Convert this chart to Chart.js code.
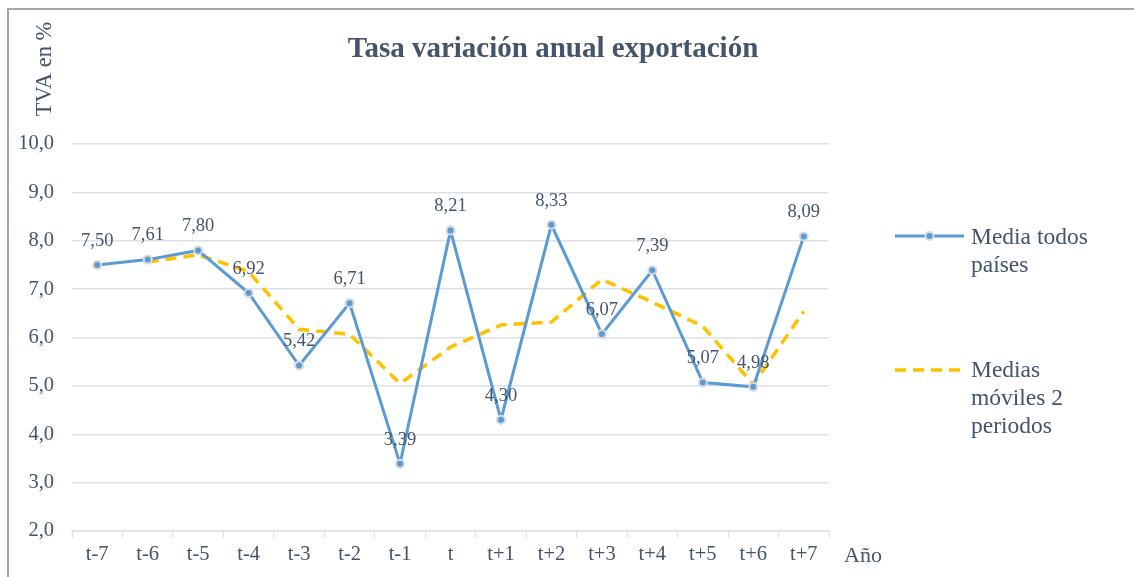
<!DOCTYPE html>
<html>
<head>
<meta charset="utf-8">
<script src="https://cdn.jsdelivr.net/npm/chart.js@4.4.1/dist/chart.umd.min.js"></script>
<style>
  html, body { margin: 0; padding: 0; background: #ffffff; overflow: hidden; }
  #frame { position: absolute; left: 7px; top: 8px; width: 2000px; height: 2000px; border: 2px solid #a6a6a6; box-sizing: border-box; }
  #c { position: absolute; left: 0; top: 0; }
</style>
</head>
<body>
<div id="frame"></div>
<canvas id="c" width="1134" height="577"></canvas>
<script>
const categories = ['t-7','t-6','t-5','t-4','t-3','t-2','t-1','t','t+1','t+2','t+3','t+4','t+5','t+6','t+7'];
const mediaTodos = [7.50, 7.61, 7.80, 6.92, 5.42, 6.71, 3.39, 8.21, 4.30, 8.33, 6.07, 7.39, 5.07, 4.98, 8.09];
const mediasMoviles = [null, 7.56, 7.71, 7.36, 6.17, 6.07, 5.05, 5.80, 6.26, 6.32, 7.20, 6.73, 6.23, 5.03, 6.54];
const seriesNames = [['Media todos', 'países'], ['Medias', 'móviles 2', 'periodos']];
const chartTitle = 'Tasa variación anual exportación';
const yTitle = 'TVA en %';
const xTitle = 'Año';

const SERIF = "'Liberation Serif', 'Times New Roman', serif";
const TXT = '#44546A';
const BLUE = '#5B9BD5';
const YELLOW = '#FFC000';
const GRID = '#dde1e7';

const decorPlugin = {
  id: 'decor',
  afterDatasetsDraw(chart) {
    const ctx = chart.ctx;
    const meta = chart.getDatasetMeta(0);
    ctx.save();
    ctx.font = '18.5px ' + SERIF;
    ctx.fillStyle = TXT;
    ctx.textAlign = 'center';
    ctx.textBaseline = 'middle';
    meta.data.forEach((pt, i) => {
      const v = chart.data.datasets[0].data[i];
      if (v == null) return;
      ctx.fillText(v.toFixed(2).replace('.', ','), pt.x, pt.y - 24);
    });
    ctx.restore();
  },
  afterDraw(chart) {
    const ctx = chart.ctx;
    ctx.save();
    // Title
    ctx.fillStyle = TXT;
    ctx.font = 'bold 29px ' + SERIF;
    ctx.textAlign = 'center';
    ctx.textBaseline = 'middle';
    ctx.fillText(chartTitle, 553, 50);
    // Y title rotated
    ctx.save();
    ctx.translate(45, 69);
    ctx.rotate(-Math.PI / 2);
    ctx.font = '22.5px ' + SERIF;
    ctx.textAlign = 'center';
    ctx.textBaseline = 'middle';
    ctx.fillText(yTitle, 0, 0);
    ctx.restore();
    // X title
    ctx.font = '22px ' + SERIF;
    ctx.textAlign = 'left';
    ctx.textBaseline = 'middle';
    ctx.fillText(xTitle, 844, 556);
    // Legend
    const lx0 = 895, lx1 = 964;
    // series 1
    let y = 236;
    ctx.strokeStyle = BLUE;
    ctx.lineWidth = 3;
    ctx.setLineDash([]);
    ctx.beginPath(); ctx.moveTo(lx0, y); ctx.lineTo(lx1, y); ctx.stroke();
    ctx.beginPath(); ctx.arc((lx0 + lx1) / 2, y, 4, 0, Math.PI * 2);
    ctx.fillStyle = BLUE; ctx.fill();
    ctx.lineWidth = 2; ctx.strokeStyle = '#d9d9d9'; ctx.stroke();
    ctx.fillStyle = TXT;
    ctx.font = '23.5px ' + SERIF;
    ctx.textAlign = 'left';
    ctx.textBaseline = 'middle';
    seriesNames[0].forEach((t, k) => ctx.fillText(t, 971, 238 + k * 28));
    // series 2
    y = 370;
    ctx.strokeStyle = YELLOW;
    ctx.lineWidth = 3.5;
    ctx.setLineDash([11, 7]);
    ctx.beginPath(); ctx.moveTo(lx0, y); ctx.lineTo(lx1, y); ctx.stroke();
    ctx.setLineDash([]);
    seriesNames[1].forEach((t, k) => ctx.fillText(t, 971, 371 + k * 28));
    ctx.restore();
  }
};

new Chart(document.getElementById('c'), {
  type: 'line',
  data: {
    labels: categories,
    datasets: [
      {
        label: seriesNames[0].join(' '),
        data: mediaTodos,
        borderColor: BLUE,
        backgroundColor: BLUE,
        borderWidth: 3,
        pointRadius: 4,
        pointBorderWidth: 2,
        pointBorderColor: '#d9d9d9',
        pointBackgroundColor: BLUE,
        tension: 0,
        order: 1
      },
      {
        label: seriesNames[1].join(' '),
        data: mediasMoviles,
        borderColor: YELLOW,
        backgroundColor: YELLOW,
        borderWidth: 3.5,
        borderDash: [11, 7],
        pointRadius: 0,
        tension: 0,
        spanGaps: false,
        order: 2
      }
    ]
  },
  options: {
    responsive: false,
    animation: false,
    events: [],
    layout: { padding: { left: 0, right: 305, top: 144, bottom: 0 } },
    plugins: {
      legend: { display: false },
      title: { display: false },
      tooltip: { enabled: false }
    },
    scales: {
      x: {
        type: 'category',
        offset: true,
        grid: { display: true, drawOnChartArea: false, drawTicks: true, tickLength: 7, color: GRID, offset: true },
        border: { display: true, color: GRID, width: 1.5 },
        ticks: { font: { family: SERIF, size: 20.5 }, color: TXT, padding: 4, maxRotation: 0, autoSkip: false },
        afterFit(s) { s.height = 46; }
      },
      y: {
        min: 2,
        max: 10,
        grid: { color: GRID, lineWidth: 1.5, drawTicks: false, tickLength: 0 },
        border: { display: false },
        ticks: {
          stepSize: 1,
          font: { family: SERIF, size: 20.5 },
          color: TXT,
          padding: 18,
          callback: v => Number(v).toFixed(1).replace('.', ',')
        },
        afterFit(s) { s.width = 72; }
      }
    }
  },
  plugins: [decorPlugin]
});
</script>
</body>
</html>
